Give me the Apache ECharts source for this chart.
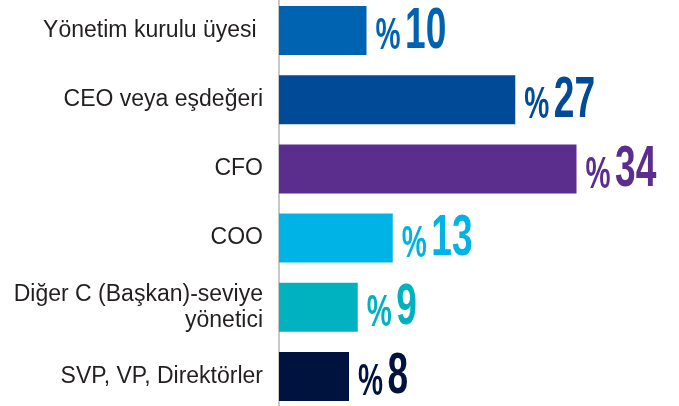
<!DOCTYPE html>
<html>
<head>
<meta charset="utf-8">
<script src="https://cdn.jsdelivr.net/npm/echarts@6/dist/echarts.min.js"></script>
<style>
  html, body { margin: 0; padding: 0; background: #fff; }
  #chart { width: 679px; height: 406px; }
</style>
</head>
<body>
<div id="chart"></div>
<script>
// data
const categories = [
    'Yönetim kurulu üyesi ',
    'CEO veya eşdeğeri',
    'CFO',
    'COO',
    'Diğer C (Başkan)-seviye\nyönetici',
    'SVP, VP, Direktörler'
];
const shares = [10, 27, 34, 13, 9, 8];

// one colour per bar, the label uses the same
const barColors = ['#0063b1', '#004a97', '#5b2d8d', '#00b3e6', '#00b2bf', '#00133f'];

const chart = echarts.init(document.getElementById('chart'));

const option = {
    animation: false,
    grid: { left: 279, top: -4, height: 415, right: 50, outerBoundsMode: 'none' },
    xAxis: {
        type: 'value',
        min: 0,
        max: 40,
        show: false
    },
    yAxis: {
        type: 'category',
        inverse: true,
        data: categories,
        axisLine: { show: true, lineStyle: { color: '#c8c8c8', width: 2 } },
        axisTick: { show: false },
        axisLabel: {
            margin: 16,
            fontSize: 23,
            lineHeight: 26,
            color: '#231f20',
            fontFamily: 'Liberation Sans, Arial, sans-serif'
        }
    },
    series: [
        {
            type: 'bar',
            barWidth: 49,
            data: shares.map((v, i) => ({ value: v, itemStyle: { color: barColors[i] } }))
        },
        {
            // "% 10" labels, squeezed to look like the condensed font of the original
            type: 'custom',
            data: shares.map((v, i) => [v, i]),
            encode: { x: 0, y: 1 },
            z: 5,
            renderItem: function (params, api) {
                const pt = api.coord([api.value(0), api.value(1)]);
                const color = barColors[params.dataIndex];
                return {
                    type: 'text',
                    x: pt[0] + 9,
                    y: pt[1] + 1,
                    scaleX: 0.64,
                    style: {
                        text: '{p|%}{n|' + api.value(0) + '}',
                        fill: color,
                        align: 'left',
                        verticalAlign: 'middle',
                        rich: {
                            p: {
                                fontSize: 44,
                                fontWeight: 'bold',
                                fontFamily: 'Liberation Sans, Arial, sans-serif',
                                fill: color,
                                padding: [11, 7, 0, 0]
                            },
                            n: {
                                fontSize: 58,
                                fontWeight: 'bold',
                                fontFamily: 'Liberation Sans, Arial, sans-serif',
                                fill: color
                            }
                        }
                    }
                };
            }
        }
    ]
};

chart.setOption(option);
</script>
</body>
</html>
